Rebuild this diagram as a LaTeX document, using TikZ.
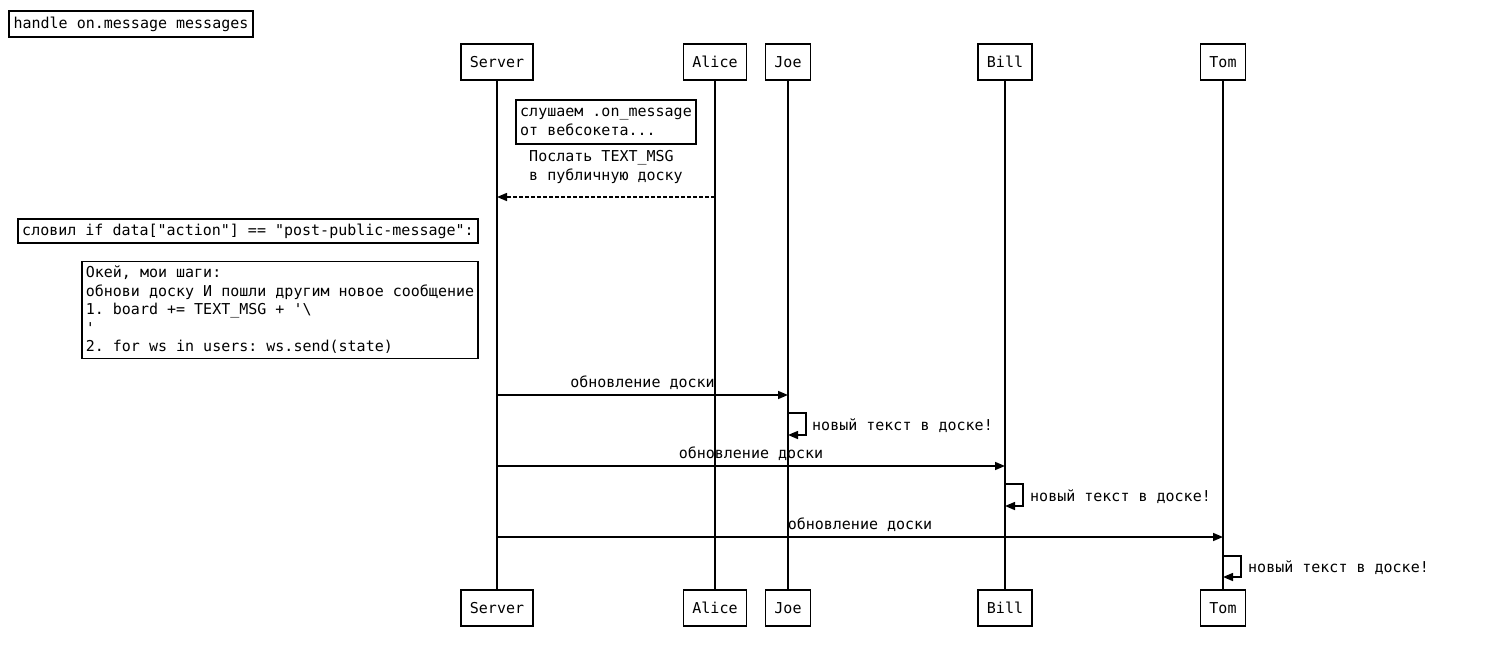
\documentclass[tikz,border=0pt]{standalone}
\usepackage{fontspec}
\setmonofont{DejaVu Sans Mono}
\usetikzlibrary{arrows.meta}
\newcommand{\myDQ}{\char34\relax}
\newcommand{\mySQ}{\char39\relax}
\newcommand{\myBS}{\char92\relax}
\begin{document}
\begin{tikzpicture}[x=1pt,y=-1pt,
  every node/.style={font=\ttfamily\fontsize{15}{18.5}\selectfont},
  part/.style={draw, line width=1.5pt, minimum height=36pt, inner xsep=9pt, inner ysep=0pt, text height=12pt, text depth=2pt},
  note/.style={draw, line width=1.5pt, inner sep=0pt, align=left},
  lbl/.style={inner sep=0pt, text height=11pt, text depth=3.5pt},
  life/.style={line width=1.5pt},
  msg/.style={line width=1.5pt, -{Triangle[length=10pt,width=8pt]}},
  dmsg/.style={msg, dash pattern=on 4pt off 2pt}
]
\useasboundingbox (0,0) rectangle (1492,646);

% title
\node[note, minimum width=244pt, minimum height=26pt] (title) at (131,24) {handle on.message messages};

% participants top
\node[part] (sT) at (497,62) {Server};
\node[part] (aT) at (715,62) {Alice};
\node[part] (jT) at (788,62) {Joe};
\node[part] (bT) at (1005,62) {Bill};
\node[part] (tT) at (1223,62) {Tom};
% participants bottom
\node[part] (sB) at (497,608) {Server};
\node[part] (aB) at (715,608) {Alice};
\node[part] (jB) at (788,608) {Joe};
\node[part] (bB) at (1005,608) {Bill};
\node[part] (tB) at (1223,608) {Tom};

% lifelines
\draw[life] (sT) -- (sB);
\draw[life] (aT) -- (aB);
\draw[life] (jT) -- (jB);
\draw[life] (bT) -- (bB);
\draw[life] (tT) -- (tB);

% note 1
\node[note, minimum width=180pt, minimum height=44pt] (n1) at (606,122) {слушаем .on\_message\\от вебсокета...};

% dashed message
\node[lbl, align=left, text height=, text depth=] (m1) at (606,167) {Послать TEXT\_MSG\\в публичную доску};
\draw[dmsg] (aT |- 0,197) -- (sT |- 0,197);

% note 2
\node[note, minimum width=460pt, minimum height=24pt] (n2) at (248,231) {словил if data[\myDQ action\myDQ] == \myDQ post-public-message\myDQ:};

% note 3
\node[note, minimum width=396pt, minimum height=97pt] (n3) at (280,310) {Окей, мои шаги:\\обнови доску И пошли другим новое сообщение\\1. board += TEXT\_MSG + \mySQ\myBS\\\mySQ\\2. for ws in users: ws.send(state)};

% Server -> Joe
\node[lbl] (l1) at (642.5,384) {обновление доски};
\draw[msg] (sT |- 0,395) -- (jT |- 0,395);
\draw[msg] (jT |- 0,413) -- ++(18,0) -- ++(0,22) -- (jT |- 0,435);
\node[lbl, anchor=west] (s1) at (812,427) {новый текст в доске!};

% Server -> Bill
\node[lbl] (l2) at (751,455) {обновление доски};
\draw[msg] (sT |- 0,466) -- (bT |- 0,466);
\draw[msg] (bT |- 0,484) -- ++(18,0) -- ++(0,22) -- (bT |- 0,506);
\node[lbl, anchor=west] (s2) at (1030,498) {новый текст в доске!};

% Server -> Tom
\node[lbl] (l3) at (860,526) {обновление доски};
\draw[msg] (sT |- 0,537) -- (tT |- 0,537);
\draw[msg] (tT |- 0,556) -- ++(18,0) -- ++(0,21) -- (tT |- 0,577);
\node[lbl, anchor=west] (s3) at (1248,569) {новый текст в доске!};
\end{tikzpicture}
\end{document}
